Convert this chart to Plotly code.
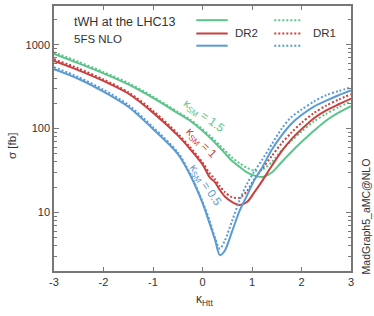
import plotly.graph_objects as go

kappa_htt = [-3, -2.5, -2, -1.5, -1, -0.5, -0.25, 0, 0.15, 0.25, 0.35, 0.45, 0.6, 0.75, 0.9,
             1.05, 1.2, 1.4, 1.6, 1.8, 2, 2.25, 2.5, 2.75, 3]

dr2_k15 = [776, 598, 455, 336, 232, 153, 124, 94, 78, 68, 59, 51, 41, 35, 30,
           27.5, 26.5, 30, 40, 53, 69, 94, 125, 155, 185]
dr1_k15 = [810, 625, 472, 350, 240, 158, 128, 98, 82, 72, 63, 55, 45, 38.5, 34,
           31.5, 32, 40, 55, 72, 92, 122, 150, 180, 211]
dr2_k10 = [640, 495, 370, 262, 155, 83, 57, 37.4, 26, 23, 18.5, 15.5, 13.3, 12.3, 13.3,
           17.5, 23.5, 36, 54, 75, 98, 133, 165, 195, 228]
dr1_k10 = [670, 520, 385, 272, 163, 87, 60, 39.5, 29, 25, 20.5, 17.5, 15.2, 15, 18,
           25, 33, 47, 67, 90, 117, 153, 188, 222, 256]
dr2_k05 = [510, 390, 275, 182, 99, 50, 28, 13, 7.2, 4.8, 3.1, 3.5, 6.0, 10.5, 16,
           24.5, 34, 56, 83, 115, 145, 183, 215, 250, 285]
dr1_k05 = [540, 410, 290, 192, 104, 52, 29, 13.5, 7.8, 5.0, 3.7, 4.6, 8.0, 14, 22,
           31, 42, 65, 100, 138, 168, 210, 250, 280, 310]

x_ticks = [-3, -2, -1, 0, 1, 2, 3]
x_tick_labels = ["-3", "-2", "-1", "0", "1", "2", "3"]
y_ticks = [10, 100, 1000]
y_tick_labels = ["10", "100", "1000"]

GREEN = "#5cc48a"
RED = "#c8403f"
BLUE = "#5b9bd5"

fig = go.Figure()
series = [
    (dr2_k15, GREEN, "solid"), (dr1_k15, GREEN, "dot"),
    (dr2_k10, RED, "solid"), (dr1_k10, RED, "dot"),
    (dr2_k05, BLUE, "solid"), (dr1_k05, BLUE, "dot"),
]
for ys, col, dash in series:
    fig.add_trace(go.Scatter(
        x=kappa_htt, y=ys, mode="lines",
        line=dict(color=col, width=2, dash=dash if dash == "solid" else "2px,2px",
                  shape="spline", smoothing=0.8),
        showlegend=False, hoverinfo="skip"))

font = "Liberation Sans, Arial, sans-serif"
axis_common = dict(showline=True, linecolor="#777", linewidth=1.5, mirror="ticks",
                   ticks="inside", tickcolor="#777", showgrid=False, zeroline=False,
                   tickfont=dict(family=font, size=11, color="#333"))

fig.update_xaxes(range=[-3, 3], tickvals=x_ticks, ticktext=x_tick_labels, ticklen=4, tickwidth=1,
                 **axis_common)
fig.update_yaxes(type="log", range=[0.302, 3.4615], tickvals=y_ticks, ticktext=y_tick_labels,
                 ticklen=5, tickwidth=1,
                 minor=dict(ticks="inside", ticklen=3, tickcolor="#777", dtick="D1"),
                 **axis_common)


def px(xp):
    return (xp - 54) / 297


def py(yp):
    return (271 - yp) / 267


def note(text, xp, yp, size, color="#333", angle=0, xanchor="center"):
    return dict(text=text, x=px(xp), y=py(yp), xref="paper", yref="paper",
                xanchor=xanchor, yanchor="middle", textangle=angle, showarrow=False,
                font=dict(family=font, size=size, color=color))


ann = [
    note("tWH at the LHC13", 72, 20, 12.5, xanchor="left"),
    note("5FS NLO", 72, 37, 11.5, xanchor="left"),
    note("DR2", 233, 31.7, 11.5, xanchor="left"),
    note("DR1", 311, 31.7, 11.5, xanchor="left"),
    note("κ<sub>SM</sub> = 1.5", 203, 115, 11.5, GREEN, 36),
    note("κ<sub>SM</sub> = 1", 200.5, 142.5, 11.5, RED, 45),
    note("κ<sub>SM</sub> = 0.5", 205, 184, 11.5, BLUE, 56),
    note("σ [fb]", 12, 145, 11.5, angle=-90),
    note("κ<sub>Htt</sub>", 204, 300, 12),
    note("MadGraph5_aMC@NLO", 366, 216, 10.5, angle=-90),
]

shapes = []
leg_y = [18.3, 31.7, 44]
cols = [GREEN, RED, BLUE]
for yy, c in zip(leg_y, cols):
    shapes.append(dict(type="line", xref="paper", yref="paper",
                       x0=px(196.3), x1=px(227.7), y0=py(yy), y1=py(yy),
                       line=dict(color=c, width=2)))
    shapes.append(dict(type="line", xref="paper", yref="paper",
                       x0=px(274.3), x1=px(302), y0=py(yy), y1=py(yy),
                       line=dict(color=c, width=2, dash="2px,2px")))

fig.update_layout(width=374, height=316, margin=dict(l=54, r=23, t=4, b=45),
                  paper_bgcolor="white", plot_bgcolor="white",
                  annotations=ann, shapes=shapes, showlegend=False)

fig.write_html("out.html", config={"displayModeBar": False},
               post_script="document.body.style.margin='0';")
